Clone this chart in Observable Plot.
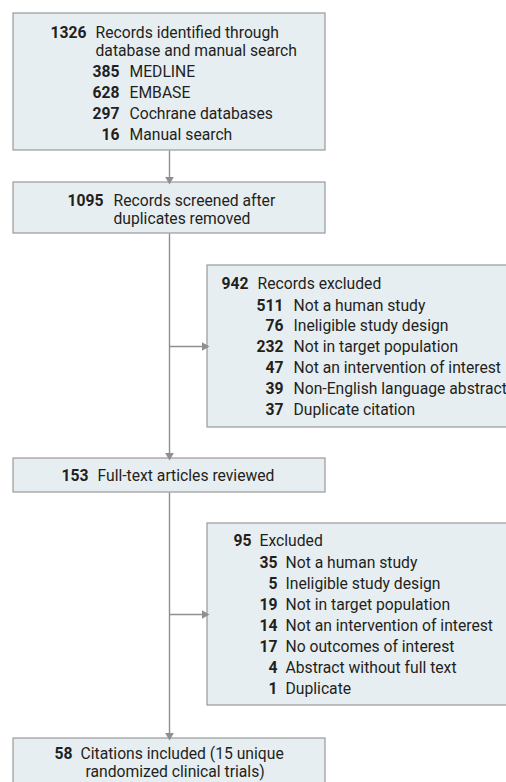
<!DOCTYPE html>
<html>
<head>
<meta charset="utf-8">
<script src="https://cdn.jsdelivr.net/npm/d3@7"></script>
<script src="https://cdn.jsdelivr.net/npm/@observablehq/plot@0.6"></script>
<style>
  html, body { margin: 0; padding: 0; background: #fff; }
  #chart svg { display: block; overflow: hidden; }
</style>
</head>
<body>
<div id="chart"></div>
<script>
// ---- Data (counts and labels) ----
const identifiedCount = 1326;
const identifiedLabel = ["Records identified through", "database and manual search"];
const sourceCounts = [385, 628, 297, 16];
const sourceLabels = ["MEDLINE", "EMBASE", "Cochrane databases", "Manual search"];

const screenedCount = 1095;
const screenedLabel = ["Records screened after", "duplicates removed"];

const excluded1Count = 942;
const excluded1Label = "Records excluded";
const excluded1Counts = [511, 76, 232, 47, 39, 37];
const excluded1Reasons = ["Not a human study", "Ineligible study design", "Not in target population",
  "Not an intervention of interest", "Non-English language abstract", "Duplicate citation"];

const fullTextCount = 153;
const fullTextLabel = "Full-text articles reviewed";

const excluded2Count = 95;
const excluded2Label = "Excluded";
const excluded2Counts = [35, 5, 19, 14, 17, 4, 1];
const excluded2Reasons = ["Not a human study", "Ineligible study design", "Not in target population",
  "Not an intervention of interest", "No outcomes of interest", "Abstract without full text", "Duplicate"];

const includedCount = 58;
const includedLabel = ["Citations included (15 unique", "randomized clinical trials)"];

// ---- Layout (diagram geometry, in pixels) ----
const W = 506, H = 782;
const boxes = [
  {x1: 13, x2: 325, y1: 13, y2: 150},
  {x1: 13, x2: 325, y1: 182, y2: 233},
  {x1: 207, x2: 530, y1: 265, y2: 427},
  {x1: 13, x2: 325, y1: 458, y2: 492},
  {x1: 207, x2: 530, y1: 523, y2: 705},
  {x1: 13, x2: 325, y1: 738, y2: 820}
];
const cx = 169;
const links = [
  {x1: cx, y1: 150, x2: cx, y2: 182},
  {x1: cx, y1: 233, x2: cx, y2: 458},
  {x1: cx, y1: 346, x2: 207, y2: 346},
  {x1: cx, y1: 492, x2: cx, y2: 738},
  {x1: cx, y1: 614, x2: 207, y2: 614}
];
const heads = [
  {x: cx, y: 179, r: 180},
  {x: cx, y: 455, r: 180},
  {x: 204, y: 346, r: 90},
  {x: cx, y: 735, r: 180},
  {x: 204, y: 614, r: 90}
];

const nums = [];   // bold numbers, right-aligned
const labels = []; // labels, left-aligned
function row(n, nx, label, lx, y) {
  if (n !== null) nums.push({x: nx, y, t: String(n)});
  labels.push({x: lx, y, t: label});
}
// Box 1
row(identifiedCount, 86, identifiedLabel[0], 95, 32);
row(null, 0, identifiedLabel[1], 95, 50);
const srcY = [71, 92, 113, 134];
sourceCounts.forEach((c, i) => row(c, 119, sourceLabels[i], 129, srcY[i]));
// Box 2
row(screenedCount, 103, screenedLabel[0], 113, 200);
row(null, 0, screenedLabel[1], 113, 218);
// Box 3
row(excluded1Count, 248, excluded1Label, 257, 283);
excluded1Counts.forEach((c, i) => row(c, 283, excluded1Reasons[i], 293, 305 + i * 20.8));
// Box 4
row(fullTextCount, 88, fullTextLabel, 97, 475);
// Box 5
row(excluded2Count, 251, excluded2Label, 259, 540);
excluded2Counts.forEach((c, i) => row(c, 277, excluded2Reasons[i], 285, 562 + i * 21));
// Box 6
row(includedCount, 72, includedLabel[0], 80, 753);
row(null, 0, includedLabel[1], 85, 771);

const font = "Roboto, 'Open Sans', sans-serif";
const lineColor = "#8f8f8f";
const fs = 15.7;

const chart = Plot.plot({
  width: W,
  height: H,
  margin: 0,
  x: {domain: [0, W], range: [0, W], axis: null},
  y: {domain: [0, H], range: [0, H], axis: null},
  style: {background: "#fff"},
  marks: [
    Plot.rect(boxes, {x1: "x1", x2: "x2", y1: "y1", y2: "y2", fill: "#e7eef2", stroke: "#9a9a9a", strokeWidth: 1.2}),
    Plot.link(links, {x1: "x1", y1: "y1", x2: "x2", y2: "y2", stroke: lineColor, strokeWidth: 1.4}),
    Plot.dot(heads, {x: "x", y: "y", rotate: "r", symbol: "triangle", r: 3.2, fill: lineColor, stroke: null}),
    Plot.text(nums, {x: "x", y: "y", text: "t", textAnchor: "end", fontWeight: "bold", fontSize: fs, fontFamily: font, fill: "#231f20"}),
    Plot.text(labels, {x: "x", y: "y", text: "t", textAnchor: "start", fontSize: fs, fontFamily: font, fill: "#231f20"})
  ]
});
document.getElementById("chart").appendChild(chart);
</script>
</body>
</html>
